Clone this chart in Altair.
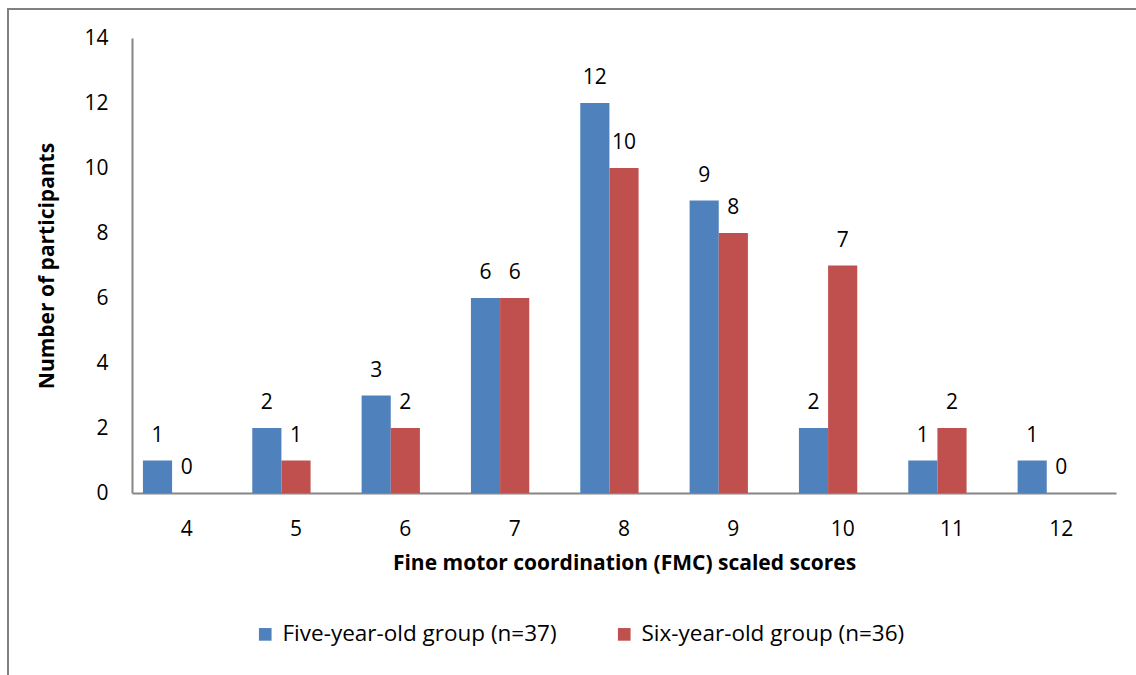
import altair as alt
import pandas as pd

scores = [4, 5, 6, 7, 8, 9, 10, 11, 12]
five_year = [1, 2, 3, 6, 12, 9, 2, 1, 1]
six_year = [0, 1, 2, 6, 10, 8, 7, 2, 0]
series_names = ["Five-year-old group (n=37)", "Six-year-old group (n=36)"]
colors = ["#4F81BD", "#C0504D"]
offset_slots = series_names + ["(empty slot)"]

rows = []
for s, a, b in zip(scores, five_year, six_year):
    rows.append({"score": s, "group": series_names[0], "count": a})
    rows.append({"score": s, "group": series_names[1], "count": b})
df = pd.DataFrame(rows)

FONT = "Open Sans, Lato, sans-serif"

x_enc = alt.X("score:O", sort=scores,
              title="Fine motor coordination (FMC) scaled scores",
              scale=alt.Scale(paddingInner=0.2, paddingOuter=0.1),
              axis=alt.Axis(labelAngle=0, ticks=False, labelPadding=25,
                            titlePadding=13, domainColor="#868686", domainWidth=2,
                            labelFontSize=21, titleFontSize=21, titleFontWeight="bold",
                            labelColor="#000", titleColor="#000", labelFont=FONT, titleFont=FONT))
xo_scale = alt.Scale(domain=offset_slots, paddingInner=0, paddingOuter=0)
y_enc = alt.Y("count:Q", title="Number of participants",
              scale=alt.Scale(domain=[0, 14], nice=False),
              axis=alt.Axis(values=list(range(0, 15, 2)), grid=False, ticks=False,
                            labelPadding=24, titlePadding=26, domainColor="#868686",
                            domainWidth=2, labelFontSize=21, titleFontSize=21,
                            titleFontWeight="bold", labelColor="#000", titleColor="#000",
                            labelFont=FONT, titleFont=FONT))
color_enc = alt.Color("group:N", sort=series_names,
                      scale=alt.Scale(domain=series_names, range=colors),
                      legend=alt.Legend(title=None, orient="none", legendX=122, legendY=585,
                                        direction="horizontal", symbolType="square",
                                        symbolSize=160, symbolStrokeWidth=0,
                                        labelFontSize=22.5, labelFont=FONT, labelColor="#000",
                                        labelLimit=0, columnPadding=56, labelOffset=6))

base = alt.Chart(df)
bars = base.mark_bar().encode(
    x=x_enc, xOffset=alt.XOffset("group:N", scale=xo_scale), y=y_enc, color=color_enc)
labels = base.mark_text(dy=-25, fontSize=21, font=FONT, color="#000").encode(
    x=alt.X("score:O", sort=scores), xOffset=alt.XOffset("group:N", scale=xo_scale),
    y="count:Q", text="count:Q")

frame_df = pd.DataFrame({"k": [0]})
top_line = alt.Chart(frame_df).mark_rule(color="#808080", strokeWidth=2).encode(
    x=alt.value(-124), x2=alt.value(1004), y=alt.value(-29))
left_line = alt.Chart(frame_df).mark_rule(color="#808080", strokeWidth=2).encode(
    x=alt.value(-124), y=alt.value(-30), y2=alt.value(640))

chart = alt.layer(bars, labels, top_line, left_line).properties(
    width=984, height=455,
    autosize=alt.AutoSizeParams(type="none"),
    padding={"left": 132, "top": 38, "right": 20, "bottom": 182},
    background="white",
).configure_view(stroke=None)

chart.save("out.html", embed_options={"renderer": "svg", "actions": False})
